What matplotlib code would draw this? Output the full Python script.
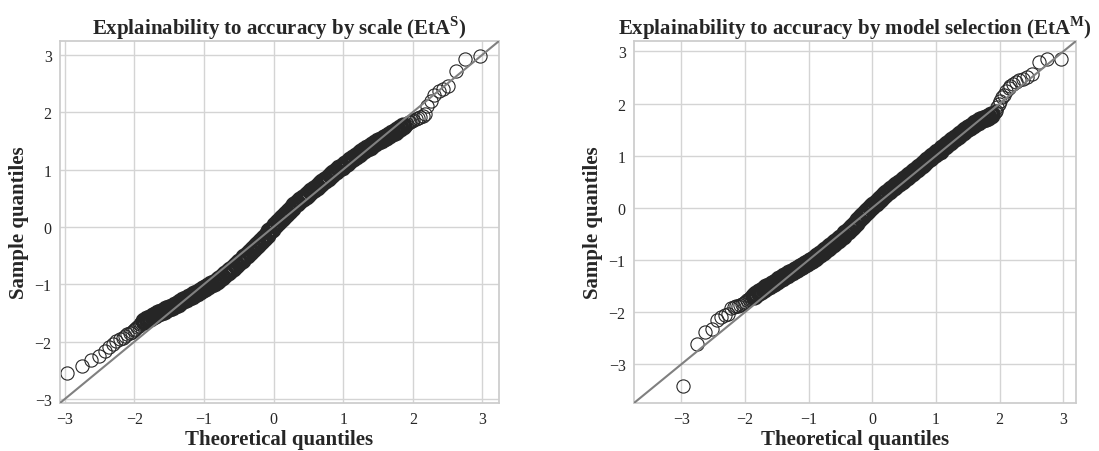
import numpy as np
import matplotlib
matplotlib.use("Agg")
import matplotlib.pyplot as plt
import seaborn as sns

sns.set_theme(style="whitegrid")
plt.rcParams.update({
    "font.family": "serif",
    "font.serif": ["Liberation Serif", "DejaVu Serif"],
    "mathtext.fontset": "custom",
    "mathtext.rm": "Liberation Serif",
    "mathtext.bf": "Liberation Serif:bold",
    "axes.edgecolor": "#cccccc",
    "grid.color": "#d4d4d4",
    "text.color": "#262626",
    "xtick.color": "#262626",
    "ytick.color": "#262626",
})

# -----------------------------
# Data
# -----------------------------
# theoretical quantiles of the tail points (normal plotting positions, n ~ 670)
theo_lo = [-2.97, -2.75, -2.62, -2.51, -2.43, -2.37, -2.31, -2.26, -2.21, -2.17,
           -2.14, -2.10, -2.07, -2.04, -2.01, -1.99, -1.96, -1.94, -1.92, -1.90]
theo_hi = [1.90, 1.92, 1.94, 1.96, 1.99, 2.01, 2.04, 2.07, 2.10, 2.14,
           2.17, 2.21, 2.26, 2.31, 2.37, 2.43, 2.51, 2.62, 2.75, 2.97]
# the dense middle band, sampled along the theoretical axis
theo_mid = [-1.86, -1.82, -1.78, -1.74, -1.70, -1.66, -1.62, -1.58, -1.54, -1.50,
            -1.46, -1.42, -1.38, -1.34, -1.30, -1.26, -1.22, -1.18, -1.14, -1.10,
            -1.06, -1.02, -0.98, -0.94, -0.90, -0.86, -0.82, -0.78, -0.74, -0.70,
            -0.66, -0.62, -0.58, -0.54, -0.50, -0.46, -0.42, -0.38, -0.34, -0.30,
            -0.26, -0.22, -0.18, -0.14, -0.10, -0.06, -0.02, 0.02, 0.06, 0.10,
            0.14, 0.18, 0.22, 0.26, 0.30, 0.34, 0.38, 0.42, 0.46, 0.50,
            0.54, 0.58, 0.62, 0.66, 0.70, 0.74, 0.78, 0.82, 0.86, 0.90,
            0.94, 0.98, 1.02, 1.06, 1.10, 1.14, 1.18, 1.22, 1.26, 1.30,
            1.34, 1.38, 1.42, 1.46, 1.50, 1.54, 1.58, 1.62, 1.66, 1.70,
            1.74, 1.78, 1.82, 1.86]

# EtA^S sample quantiles
scale_lo = [-2.54, -2.43, -2.32, -2.25, -2.16, -2.10, -2.04, -1.99, -1.96, -1.93,
            -1.90, -1.87, -1.85, -1.83, -1.80, -1.78, -1.75, -1.72, -1.70, -1.68]
scale_mid = [-1.64, -1.61, -1.59, -1.56, -1.53, -1.51, -1.48, -1.46, -1.43, -1.41,
             -1.39, -1.36, -1.34, -1.31, -1.28, -1.25, -1.22, -1.20, -1.17, -1.15,
             -1.12, -1.09, -1.06, -1.03, -1.00, -0.97, -0.94, -0.90, -0.87, -0.83,
             -0.79, -0.75, -0.71, -0.66, -0.62, -0.58, -0.53, -0.49, -0.44, -0.39,
             -0.34, -0.29, -0.24, -0.19, -0.14, -0.08, -0.03, 0.03, 0.08, 0.13,
             0.18, 0.23, 0.28, 0.33, 0.38, 0.42, 0.46, 0.50, 0.54, 0.58,
             0.62, 0.66, 0.70, 0.74, 0.78, 0.82, 0.86, 0.90, 0.94, 0.98,
             1.02, 1.05, 1.09, 1.12, 1.16, 1.20, 1.23, 1.27, 1.30, 1.34,
             1.37, 1.40, 1.43, 1.46, 1.49, 1.52, 1.55, 1.57, 1.60, 1.63,
             1.66, 1.69, 1.72, 1.75]
scale_hi = [1.78, 1.80, 1.82, 1.83, 1.85, 1.86, 1.88, 1.90, 1.92, 1.94,
            1.97, 2.10, 2.20, 2.29, 2.37, 2.40, 2.46, 2.72, 2.93, 2.97]

# EtA^M sample quantiles
model_lo = [-3.42, -2.61, -2.37, -2.32, -2.14, -2.09, -2.06, -2.03, -1.92, -1.90,
            -1.89, -1.88, -1.86, -1.84, -1.82, -1.80, -1.77, -1.75, -1.73, -1.71]
model_mid = [-1.68, -1.65, -1.62, -1.59, -1.55, -1.52, -1.49, -1.46, -1.43, -1.40,
             -1.37, -1.34, -1.31, -1.28, -1.25, -1.22, -1.19, -1.17, -1.14, -1.11,
             -1.08, -1.05, -1.02, -0.99, -0.96, -0.92, -0.88, -0.84, -0.81, -0.77,
             -0.73, -0.69, -0.65, -0.62, -0.58, -0.54, -0.49, -0.44, -0.39, -0.34,
             -0.29, -0.24, -0.18, -0.13, -0.08, -0.04, 0.01, 0.05, 0.10, 0.15,
             0.19, 0.24, 0.28, 0.32, 0.36, 0.40, 0.44, 0.48, 0.52, 0.56,
             0.60, 0.63, 0.67, 0.71, 0.75, 0.79, 0.83, 0.87, 0.91, 0.95,
             0.99, 1.03, 1.07, 1.10, 1.14, 1.18, 1.22, 1.26, 1.30, 1.34,
             1.38, 1.42, 1.46, 1.49, 1.53, 1.56, 1.59, 1.62, 1.65, 1.68,
             1.70, 1.73, 1.75, 1.78]
model_hi = [1.81, 1.83, 1.86, 1.93, 2.00, 2.05, 2.12, 2.17, 2.25, 2.29,
            2.33, 2.37, 2.41, 2.45, 2.48, 2.51, 2.57, 2.80, 2.85, 2.86]

TICKS = [-3, -2, -1, 0, 1, 2, 3]

# -----------------------------
# Figure
# -----------------------------
fig = plt.figure(figsize=(10.99, 4.52), dpi=100, facecolor="white")
ax_s = fig.add_axes([0.0546, 0.1062, 0.3995, 0.8009])
ax_m = fig.add_axes([0.5769, 0.1062, 0.4022, 0.8009])


def qq_panel(ax, lo, mid, hi, lims, title):
    # 45 degree reference line, corner to corner
    ax.plot(lims, lims, color="#808080", lw=1.5, zorder=3)
    ring = dict(ls="none", marker="o", mfc="none", mec="#262626", zorder=2)
    # dense middle: heavy rings so the overlapped band fills in
    ax.plot(theo_mid, mid, ms=10.5, mew=2.6, **ring)
    ax.plot(theo_lo, lo, ms=9.5, mew=0.8, **ring)
    ax.plot(theo_hi, hi, ms=9.5, mew=0.8, **ring)
    ax.set_xlim(lims)
    ax.set_ylim(lims)
    ax.set_xticks(TICKS)
    ax.set_yticks(TICKS)
    ax.tick_params(labelsize=11.5, length=0, pad=6)
    ax.set_xlabel("Theoretical quantiles", fontsize=15, fontweight="bold", labelpad=1)
    ax.set_ylabel("Sample quantiles", fontsize=15, fontweight="bold", labelpad=4)
    ax.set_title(title, fontsize=15, fontweight="bold", pad=5)
    for sp in ax.spines.values():
        sp.set_color("#cccccc")
        sp.set_linewidth(1.25)


qq_panel(ax_s, scale_lo, scale_mid, scale_hi, (-3.07, 3.24),
         r"Explainability to accuracy by scale (EtA$^{\mathbf{S}}$)")
qq_panel(ax_m, model_lo, model_mid, model_hi, (-3.74, 3.20),
         r"Explainability to accuracy by model selection (EtA$^{\mathbf{M}}$)")

fig.savefig("out.png", dpi=100, facecolor="white")
